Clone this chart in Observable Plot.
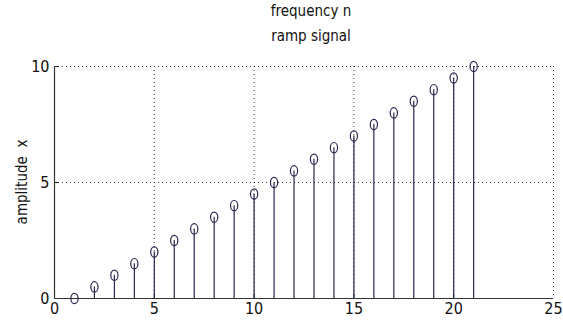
<!DOCTYPE html>
<html>
<head>
<meta charset="utf-8">
<script src="https://cdn.jsdelivr.net/npm/d3@7"></script>
<script src="https://cdn.jsdelivr.net/npm/@observablehq/plot@0.6"></script>
<style>
  html, body { margin: 0; padding: 0; background: #fff; }
  #wrap { position: relative; width: 563px; height: 331px; overflow: hidden; font-family: "Liberation Sans Narrow", "Arial Narrow", "DejaVu Sans Condensed", sans-serif; color: #111; }
  .t { position: absolute; white-space: nowrap; font-size: 15px; transform: translateX(-50%); }
  #ylab { position: absolute; left: 22px; top: 182px; font-size: 15px; white-space: nowrap; transform: translate(-50%, -50%) rotate(-90deg); }
  #chart { position: absolute; left: 0; top: 0; }
</style>
</head>
<body>
<div id="wrap">
  <div id="chart"></div>
  <div class="t" style="left:311px; top:2px;">frequency n</div>
  <div class="t" style="left:311px; top:27px;">ramp signal</div>
  <div id="ylab">amplitude &nbsp;x</div>
</div>
<script>
const n = [1, 2, 3, 4, 5, 6, 7, 8, 9, 10, 11, 12, 13, 14, 15, 16, 17, 18, 19, 20, 21];
const x = [0, 0.5, 1, 1.5, 2, 2.5, 3, 3.5, 4, 4.5, 5, 5.5, 6, 6.5, 7, 7.5, 8, 8.5, 9, 9.5, 10];
const xTicks = [0, 5, 10, 15, 20, 25];
const yTicks = [0, 5, 10];
const xGrid = [5, 10, 15, 20, 25];
const yGrid = [5, 10];

const data = n.map((v, i) => ({n: v, x: x[i]}));

const ellipse = {
  draw(context) {
    const rx = 3.6, ry = 5.2, k = 0.5523;
    context.moveTo(rx, 0);
    context.bezierCurveTo(rx, k * ry, k * rx, ry, 0, ry);
    context.bezierCurveTo(-k * rx, ry, -rx, k * ry, -rx, 0);
    context.bezierCurveTo(-rx, -k * ry, -k * rx, -ry, 0, -ry);
    context.bezierCurveTo(k * rx, -ry, rx, -k * ry, rx, 0);
    context.closePath();
  }
};

const stemColor = "#262650";

const chart = Plot.plot({
  width: 563,
  height: 331,
  marginLeft: 54,
  marginRight: 10,
  marginTop: 66,
  marginBottom: 33,
  style: {fontFamily: "'Liberation Sans Narrow', 'Arial Narrow', 'DejaVu Sans Condensed', sans-serif", fontSize: "16px", color: "#111", background: "transparent"},
  x: {domain: [0, 25]},
  y: {domain: [0, 10]},
  marks: [
    Plot.gridX(xGrid, {stroke: "#222", strokeOpacity: 0.9, strokeDasharray: "1,3"}),
    Plot.gridY(yGrid, {stroke: "#222", strokeOpacity: 0.9, strokeDasharray: "1,3"}),
    Plot.axisX(xTicks, {tickSize: 0, tickPadding: 4, label: null, fontSize: 16}),
    Plot.axisY(yTicks, {tickSize: 0, tickPadding: 5, label: null, fontSize: 16}),
    Plot.ruleX(xGrid.slice(0, -1), {x: d => d, y1: 0, y2: 0.18, stroke: "#222"}),
    Plot.ruleY(yGrid, {y: d => d, x1: 0, x2: 0.22, stroke: "#222"}),
    Plot.ruleX([0], {stroke: "#333", strokeWidth: 1.2}),
    Plot.ruleY([0], {stroke: "#333", strokeWidth: 1.2}),
    Plot.ruleX(data, {x: "n", y1: 0, y2: "x", stroke: stemColor, strokeWidth: 1.2}),
    Plot.dot(data, {x: "n", y: "x", symbol: ellipse, r: 4, stroke: stemColor, strokeWidth: 1.2, fill: "none"})
  ]
});
document.getElementById("chart").appendChild(chart);
</script>
</body>
</html>
